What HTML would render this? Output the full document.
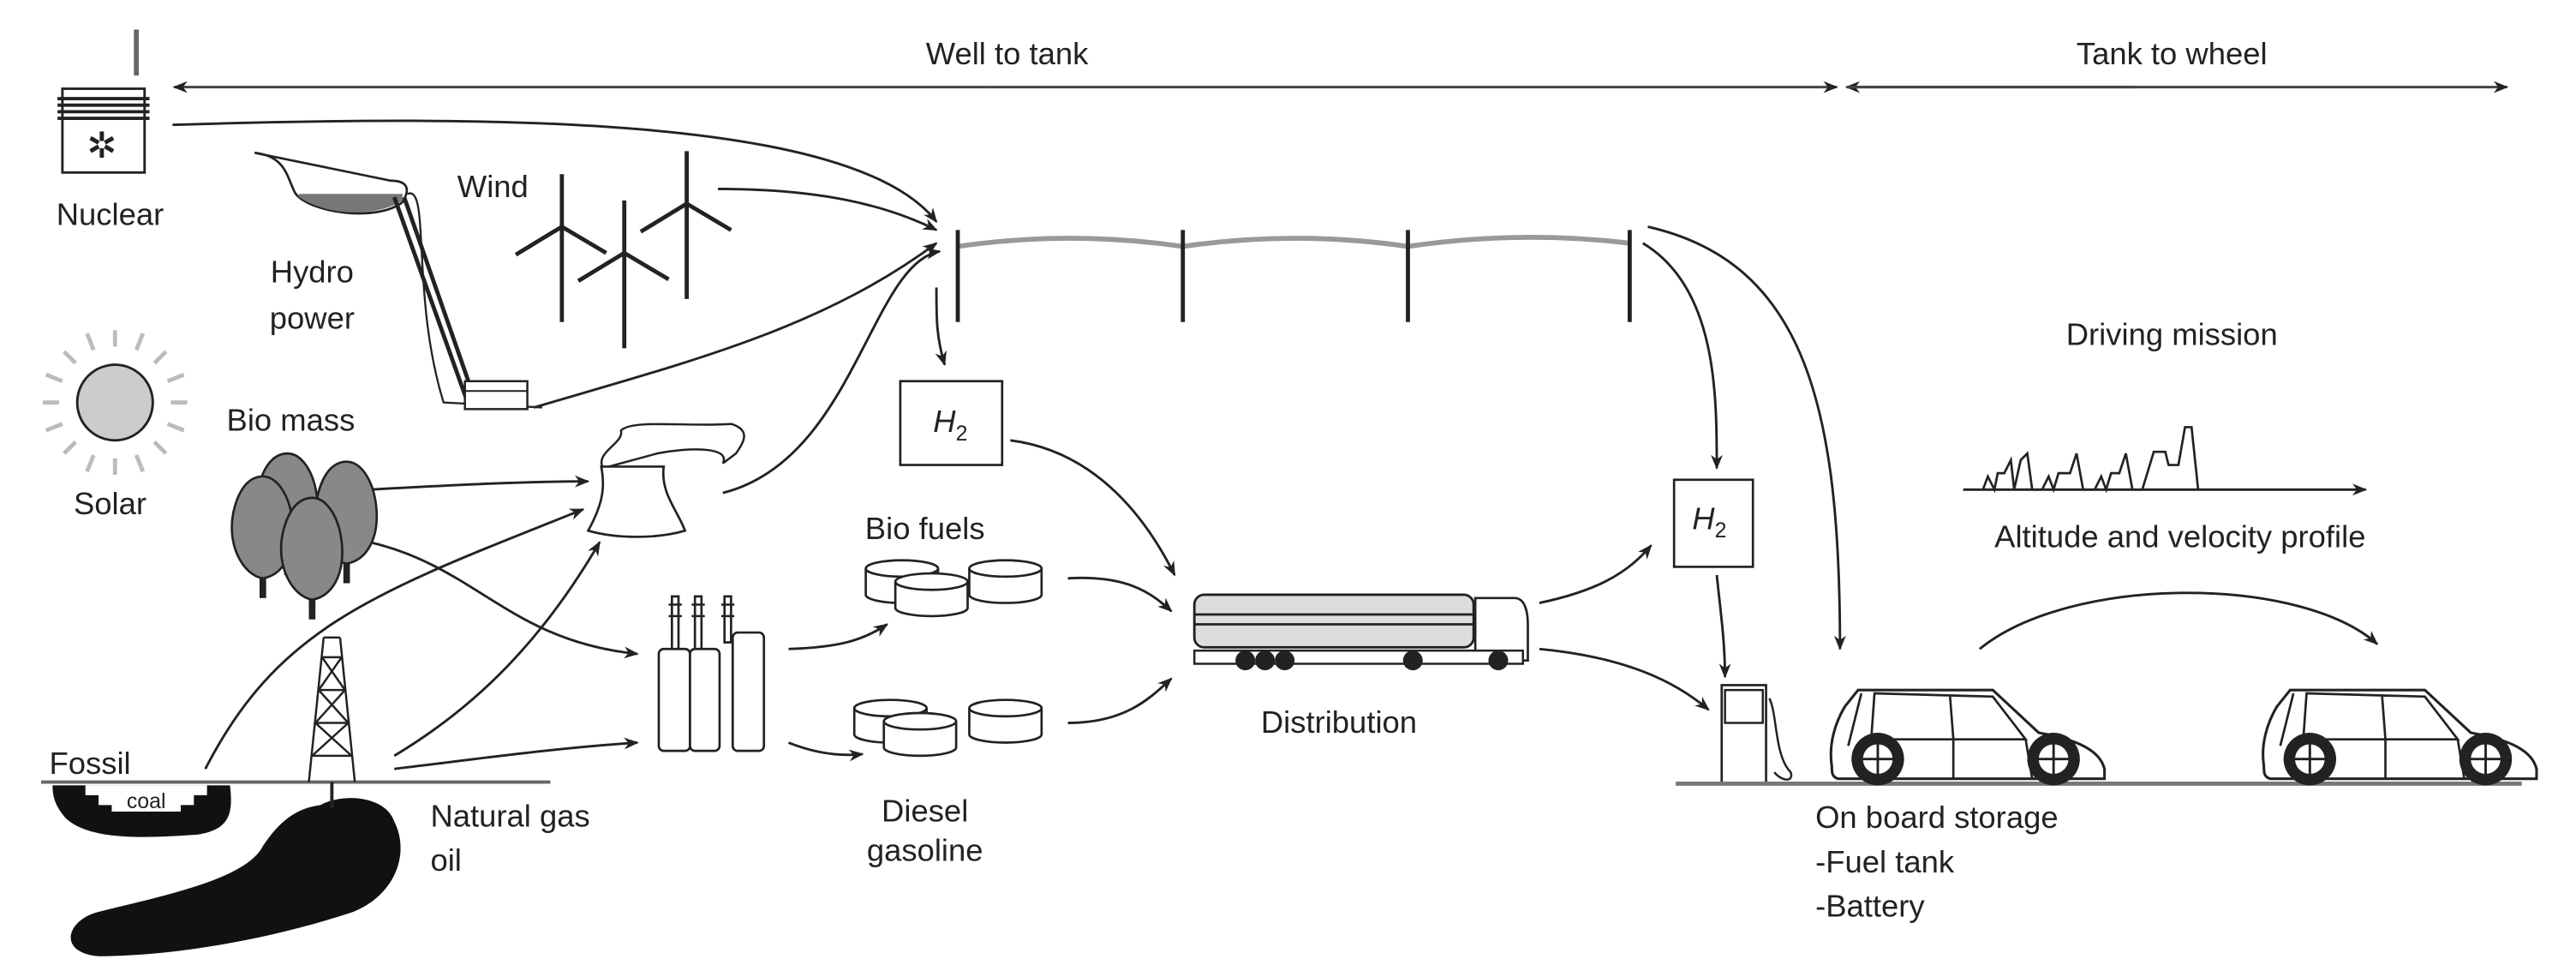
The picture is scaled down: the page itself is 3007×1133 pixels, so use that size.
<!DOCTYPE html>
<html><head><meta charset="utf-8"><style>
html,body{margin:0;padding:0;background:#fff;width:3007px;height:1133px;overflow:hidden}
svg{display:block}
text{font-family:"Liberation Sans",sans-serif;fill:#222}
</style></head><body>
<svg width="3007" height="1133" viewBox="0 0 1568 591" preserveAspectRatio="none" xmlns="http://www.w3.org/2000/svg">
<defs>
<marker id="a" viewBox="0 0 10 10" refX="9" refY="5" markerWidth="9" markerHeight="9" orient="auto" markerUnits="userSpaceOnUse">
<path d="M0,1 L10,5 L0,9 L3,5 z" fill="#222"/></marker>
<g id="car">
<path d="M2,48 C0,35 4,22 10,12 L18,2 L100,2 L128,28 C150,32 165,38 168,50 L168,56 L6,56 C2,55 2,52 2,48 Z" fill="#fff" stroke="#222" stroke-width="1.6"/>
<path d="M20,4 L12,36 M28,4 L26,32 L120,32 L100,6 Z M74,6 L76,32 M76,32 L76,56 M28,32 L30,56 M120,32 L124,56" fill="none" stroke="#222" stroke-width="1.4"/>
<circle cx="30" cy="44" r="16" fill="#222"/><circle cx="30" cy="44" r="10" fill="#fff" stroke="#222" stroke-width="2"/>
<circle cx="137" cy="44" r="16" fill="#222"/><circle cx="137" cy="44" r="10" fill="#fff" stroke="#222" stroke-width="2"/>
<path d="M30,34 V54 M20,44 H40 M137,34 V54 M127,44 H147" stroke="#222" stroke-width="1.5"/>
</g>
<g id="tur"><line x1="0" y1="0" x2="0" y2="58" stroke="#222" stroke-width="2.5"/>
<path d="M0,0 L-28,17 M0,0 L27,16 M0,0 L0,-32" stroke="#222" stroke-width="2.5"/></g>
<g id="drum"><path d="M0,6 V22 A22,5 0 0 0 44,22 V6" fill="#fff" stroke="#222" stroke-width="1.4"/><ellipse cx="22" cy="6" rx="22" ry="5" fill="#fff" stroke="#222" stroke-width="1.4"/></g>
<g id="tree"><path d="M0,60 C-12,58 -22,40 -18,20 C-14,2 -6,-2 0,-2 C8,-2 16,8 18,25 C20,45 12,58 0,60 Z" fill="#888" stroke="#222" stroke-width="1.4"/><rect x="-2" y="60" width="4" height="12" fill="#222"/></g>
</defs>

<!-- top arrows -->
<line x1="600" y1="53" x2="106" y2="53" stroke="#444" stroke-width="1.6" marker-end="url(#a)"/>
<line x1="600" y1="53" x2="1118" y2="53" stroke="#444" stroke-width="1.6" marker-end="url(#a)"/>
<line x1="1300" y1="53" x2="1124" y2="53" stroke="#444" stroke-width="1.6" marker-end="url(#a)"/>
<line x1="1124" y1="53" x2="1526" y2="53" stroke="#444" stroke-width="1.6" marker-end="url(#a)"/>
<text x="613" y="39" font-size="19" text-anchor="middle">Well to tank</text>
<text x="1322" y="39" font-size="19" text-anchor="middle">Tank to wheel</text>

<!-- nuclear -->
<line x1="83" y1="18" x2="83" y2="46" stroke="#666" stroke-width="3"/>
<rect x="38" y="54" width="50" height="51" fill="#fff" stroke="#222" stroke-width="1.5"/>
<path d="M35,60 H91 M35,64 H91 M35,68 H91 M35,72 H91" stroke="#222" stroke-width="2"/>
<text x="62" y="96" font-size="22" text-anchor="middle">✲</text>
<text x="67" y="137" font-size="19" text-anchor="middle">Nuclear</text>

<!-- hydro -->
<path d="M155,93 C175,95 175,110 180,118 C190,130 230,135 245,123 C250,115 248,110 238,110 Z" fill="none" stroke="#222" stroke-width="1.4"/>
<path d="M182,120 C200,132 230,132 245,122 L245,118 L182,118 Z" fill="#777"/>
<path d="M240,120 L285,246 M246,120 L290,246" stroke="#222" stroke-width="2.5"/>
<path d="M248,118 C262,112 250,180 270,245 L330,248" fill="none" stroke="#222" stroke-width="1.2"/>
<rect x="283" y="232" width="38" height="17" fill="#fff" stroke="#222" stroke-width="1.3"/>
<line x1="283" y1="238" x2="321" y2="238" stroke="#222"/>
<text x="190" y="172" font-size="19" text-anchor="middle">Hydro</text>
<text x="190" y="200" font-size="19" text-anchor="middle">power</text>

<!-- wind -->
<text x="300" y="120" font-size="19" text-anchor="middle">Wind</text>
<use href="#tur" x="342" y="138"/>
<use href="#tur" x="380" y="154"/>
<use href="#tur" x="418" y="124"/>

<!-- power line -->
<path d="M583,150 Q651,140 720,150 Q788,140 857,150 Q924,140 992,148" fill="none" stroke="#999" stroke-width="3"/>
<g stroke="#222" stroke-width="2.5"><line x1="583" y1="140" x2="583" y2="196"/><line x1="720" y1="140" x2="720" y2="196"/><line x1="857" y1="140" x2="857" y2="196"/><line x1="992" y1="140" x2="992" y2="196"/></g>

<!-- connectors -->
<g fill="none" stroke="#222" stroke-width="1.5" marker-end="url(#a)">
<path d="M105,76 C300,70 520,70 570,135"/>
<path d="M437,115 C500,115 540,125 570,140"/>
<path d="M325,248 C420,220 500,200 570,148"/>
<path d="M440,300 C520,280 530,160 572,153"/>
<path d="M570,175 C570,195 570,205 575,222"/>
<path d="M615,268 C670,275 700,320 715,350"/>
<path d="M225,298 C280,295 320,293 358,293"/>
<path d="M225,330 C290,345 310,390 388,398"/>
<path d="M125,468 C170,380 230,360 355,310"/>
<path d="M240,460 C290,430 330,390 365,330"/>
<path d="M240,468 C290,462 340,455 388,452"/>
<path d="M480,395 C510,394 525,390 540,380"/>
<path d="M480,452 C500,460 515,460 525,459"/>
<path d="M650,352 C685,350 700,360 713,372"/>
<path d="M650,440 C685,440 700,425 713,413"/>
<path d="M937,367 C970,360 990,350 1005,332"/>
<path d="M937,395 C990,400 1020,415 1040,432"/>
<path d="M1000,148 C1045,175 1045,240 1045,285"/>
<path d="M1003,138 C1100,160 1120,250 1120,395"/>
<path d="M1045,350 C1047,370 1050,390 1050,412"/>
<path d="M1205,395 C1260,350 1400,350 1447,392"/>
</g>

<!-- H2 boxes -->
<rect x="548" y="232" width="62" height="51" fill="#fff" stroke="#222" stroke-width="1.4"/>
<text x="568" y="263" font-size="19" font-style="italic">H<tspan font-size="13" dy="5" font-style="normal">2</tspan></text>
<rect x="1019" y="292" width="48" height="53" fill="#fff" stroke="#222" stroke-width="1.4"/>
<text x="1030" y="322" font-size="19" font-style="italic">H<tspan font-size="13" dy="5" font-style="normal">2</tspan></text>

<!-- solar -->
<g transform="translate(70,245)" stroke="#bbb" stroke-width="2.5"><path d="M0,-34 V-44 M0,34 V44 M-34,0 H-44 M34,0 H44 M-24,-24 L-31,-31 M24,24 L31,31 M24,-24 L31,-31 M-24,24 L-31,31 M-13,-32 L-17,-42 M13,32 L17,42 M13,-32 L17,-42 M-13,32 L-17,42 M-32,-13 L-42,-17 M32,13 L42,17 M32,-13 L42,-17 M-32,13 L-42,17"/></g>
<circle cx="70" cy="245" r="23" fill="#ccc" stroke="#222" stroke-width="1.5"/>
<text x="67" y="313" font-size="19" text-anchor="middle">Solar</text>

<!-- biomass -->
<text x="177" y="262" font-size="19" text-anchor="middle">Bio mass</text>
<use href="#tree" x="175" y="278"/>
<use href="#tree" x="211" y="283"/>
<use href="#tree" x="160" y="292"/>
<use href="#tree" x="190" y="305"/>

<!-- cooling tower -->
<path d="M367,285 C362,275 380,270 378,262 C385,255 420,260 445,258 C458,262 452,270 448,276 L440,282 C445,272 420,272 400,276 Z" fill="#fff" stroke="#222" stroke-width="1.3"/>
<path d="M366,284 H404 C402,300 412,310 417,323 C400,328 375,328 358,323 C368,305 368,295 366,284 Z" fill="#fff" stroke="#222" stroke-width="1.4"/>

<!-- refinery -->
<g fill="#fff" stroke="#222" stroke-width="1.4">
<rect x="409" y="363" width="4" height="36"/><rect x="423" y="363" width="4" height="36"/><rect x="441" y="363" width="4" height="28"/>
<rect x="401" y="395" width="19" height="62" rx="3"/><rect x="420" y="395" width="18" height="62" rx="3"/><rect x="446" y="385" width="19" height="72" rx="3"/>
</g>
<path d="M407,368 H415 M421,368 H429 M439,368 H447 M407,375 H415 M421,375 H429 M439,375 H447" stroke="#222" stroke-width="1.3"/>

<!-- drums -->
<text x="563" y="328" font-size="19" text-anchor="middle">Bio fuels</text>
<use href="#drum" x="527" y="340"/><use href="#drum" x="590" y="340"/><use href="#drum" x="545" y="348"/>
<use href="#drum" x="520" y="425"/><use href="#drum" x="590" y="425"/><use href="#drum" x="538" y="433"/>
<text x="563" y="500" font-size="19" text-anchor="middle">Diesel</text>
<text x="563" y="524" font-size="19" text-anchor="middle">gasoline</text>

<!-- truck -->
<rect x="727" y="362" width="170" height="32" rx="6" fill="#ddd" stroke="#222" stroke-width="1.5"/>
<path d="M727,374 H897 M727,380 H897" stroke="#222" stroke-width="1.4"/>
<path d="M898,364 H922 C928,364 930,372 930,380 V402 H898 Z" fill="#fff" stroke="#222" stroke-width="1.4"/>
<rect x="727" y="396" width="200" height="8" fill="#fff" stroke="#222" stroke-width="1.3"/>
<g fill="#222"><circle cx="758" cy="402" r="6"/><circle cx="770" cy="402" r="6"/><circle cx="782" cy="402" r="6"/><circle cx="860" cy="402" r="6"/><circle cx="912" cy="402" r="6"/></g>
<text x="815" y="446" font-size="19" text-anchor="middle">Distribution</text>

<!-- pump -->
<rect x="1048" y="417" width="27" height="60" fill="#fff" stroke="#222" stroke-width="1.4"/>
<rect x="1050" y="420" width="23" height="20" fill="#fff" stroke="#222" stroke-width="1.3"/>
<path d="M1077,425 C1082,435 1080,460 1090,470 C1092,476 1085,476 1080,470" fill="none" stroke="#222" stroke-width="1.3"/>
<line x1="1020" y1="477" x2="1535" y2="477" stroke="#777" stroke-width="2.5"/>
<use href="#car" x="1113" y="418"/>
<use href="#car" x="1376" y="418"/>

<!-- driving mission -->
<text x="1322" y="210" font-size="19" text-anchor="middle">Driving mission</text>
<path d="M1207,298 L1210,290 L1214,298 L1216,288 L1220,288 L1224,280 L1226,298 L1230,280 L1234,276 L1237,298 L1243,298 L1247,290 L1250,298 L1253,288 L1260,288 L1264,276 L1268,298 L1275,298 L1279,290 L1282,298 L1285,288 L1290,288 L1294,276 L1298,298 L1304,298 L1311,275 L1318,275 L1320,283 L1326,283 L1330,260 L1334,260 L1338,298" fill="none" stroke="#222" stroke-width="1.4"/>
<line x1="1195" y1="298" x2="1440" y2="298" stroke="#222" stroke-width="1.5" marker-end="url(#a)"/>
<text x="1327" y="333" font-size="19" text-anchor="middle">Altitude and velocity profile</text>

<text x="1105" y="504" font-size="19">On board storage</text>
<text x="1105" y="531" font-size="19">-Fuel tank</text>
<text x="1105" y="558" font-size="19">-Battery</text>

<!-- fossil -->
<text x="30" y="471" font-size="19">Fossil</text>
<line x1="25" y1="476" x2="335" y2="476" stroke="#666" stroke-width="2"/>
<path d="M32,478 H140 C142,495 140,505 120,508 C90,510 55,512 40,498 C33,490 32,484 32,478 Z" fill="#111"/>
<path d="M52,478 V484 H60 V490 H68 V494 H110 V490 H118 V484 H126 V478 Z" fill="#fff"/>
<text x="89" y="492" font-size="13" text-anchor="middle">coal</text>
<path d="M195,490 C210,482 235,485 240,500 C250,520 240,545 215,555 C170,570 110,582 60,582 C35,580 40,560 60,555 C100,545 150,535 160,515 C170,500 180,492 195,490 Z" fill="#111"/>
<g stroke="#222" stroke-width="1.3" fill="none">
<path d="M197,388 L188,476 M207,388 L216,476 M197,388 H207 M196,400 L208,400 M194,420 L210,420 M192,440 L212,440 M190,460 L214,460 M196,400 L210,420 L192,440 L214,460 M208,400 L194,420 L212,440 L190,460"/>
<line x1="202" y1="476" x2="202" y2="492" stroke-width="2"/>
</g>
<text x="262" y="503" font-size="19">Natural gas</text>
<text x="262" y="530" font-size="19">oil</text>
</svg>
</body></html>
